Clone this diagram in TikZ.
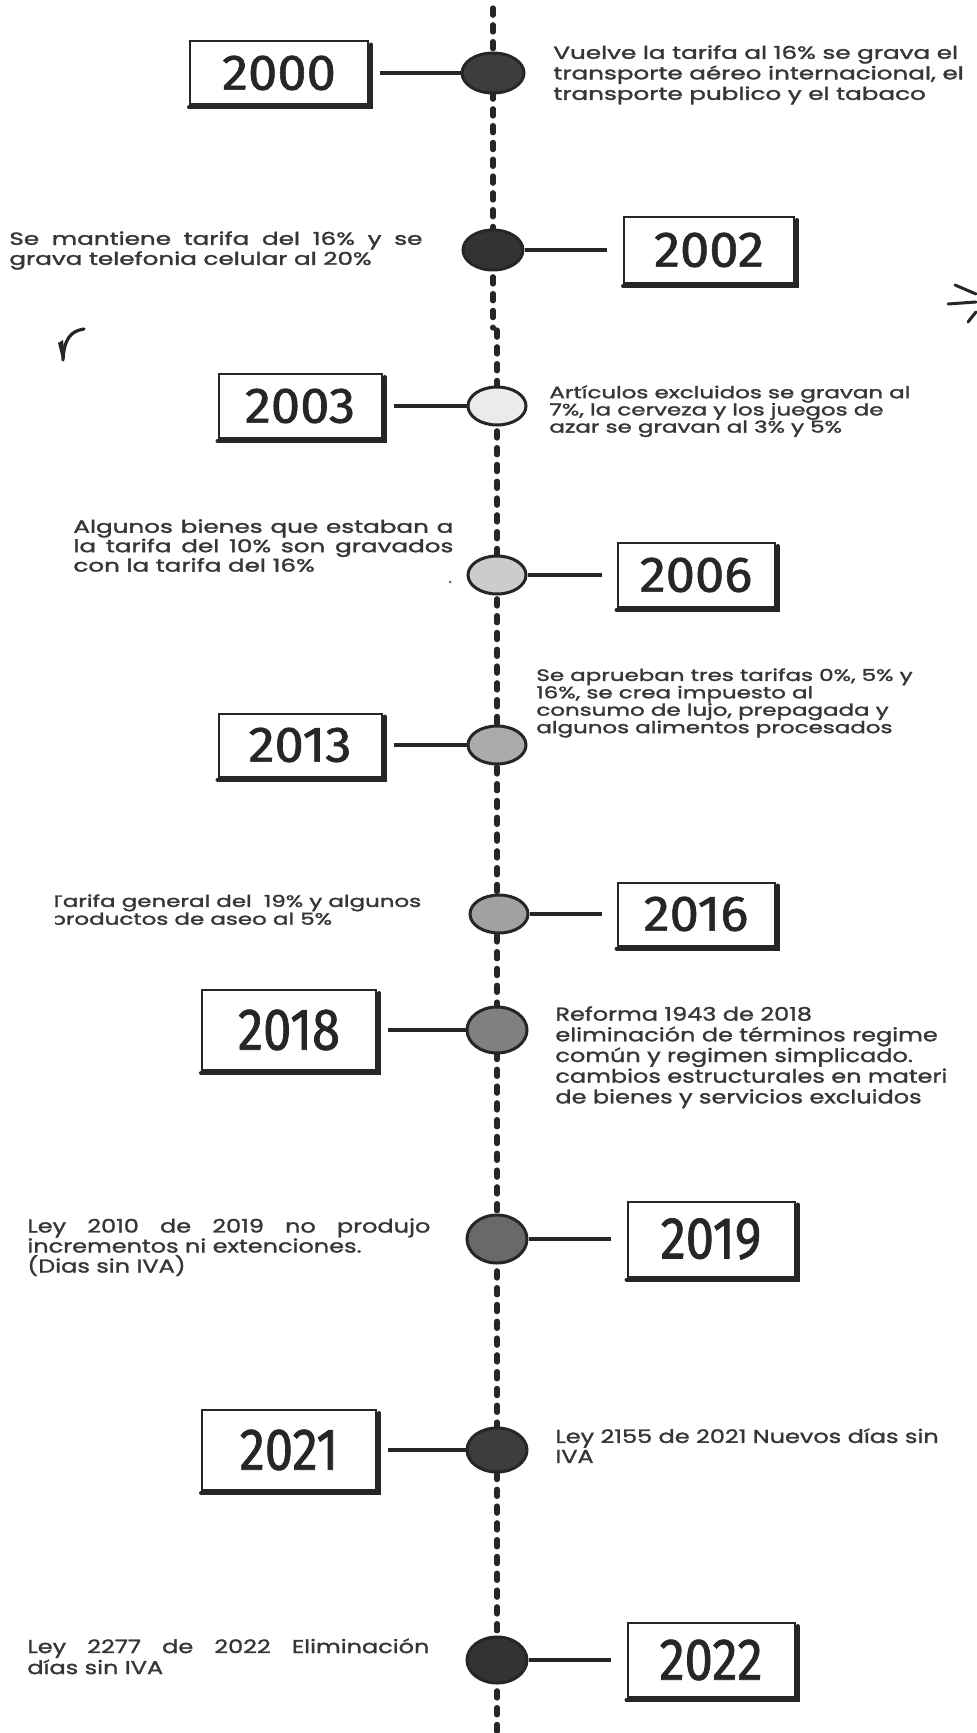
\documentclass[tikz,border=0pt]{standalone}
\usepackage{fontspec}
\usetikzlibrary{shapes.geometric}
\newfontfamily\descfont{Poppins}[FakeStretch=1.4,FakeBold=1.8]
\newfontfamily\descfontb{Poppins}[FakeStretch=1.29,FakeBold=1.4]
\newfontfamily\yearfontA{Fira Sans}[FakeStretch=1.05,FakeBold=1.2]
\newfontfamily\yearfontB{Fira Sans}[FakeStretch=0.86,FakeBold=1.2]
\definecolor{txt}{HTML}{363636}
\definecolor{ink}{HTML}{262626}
\newcommand\boxshadow[1]{\draw[line width=2pt,ink,line cap=round]
  ([xshift=1pt,yshift=-2pt]#1.north east) -- ([xshift=1pt,yshift=-1pt]#1.south east)
  -- ([xshift=0pt,yshift=-1pt]#1.south west);}
\newcommand\jline[2]{\makebox[#1][s]{#2}}
\tikzset{
  yearbox/.style={draw=ink,line width=1pt,fill=white,inner sep=0,text=ink},
  yearA/.style={yearbox,font=\yearfontA\fontsize{25}{25}\selectfont},
  yearB/.style={yearbox,font=\yearfontB\fontsize{29.5}{29.5}\selectfont},
  dot/.style={ellipse,draw=ink,line width=1.5pt,inner sep=0},
  conn/.style={line width=1.6pt,draw=ink},
  desc/.style={inner sep=0,anchor=north west,text=txt,align=left,
    font=\descfont\fontsize{8.8}{10.25}\selectfont},
  descb/.style={inner sep=0,anchor=north west,text=txt,align=left,
    font=\descfontb\fontsize{9.3}{10.35}\selectfont},
  spine/.style={line width=2.6pt,dash pattern=on 3.6pt off 4.8pt,line cap=round,draw=ink}
}
\begin{document}
\begin{tikzpicture}[x=0.5pt,y=-0.5pt]
\useasboundingbox[fill=white] (0,0) rectangle (976,1733);
% spine
\coordinate (s0) at (493,8);
\coordinate (s1) at (493,328);
\coordinate (s2) at (497,330);
\coordinate (s3) at (497,1733);
\draw[spine] (s0) -- (s1);
\draw[spine] (s2) -- (s3);
% dots
\node[dot,fill=black!76,minimum width=31pt,minimum height=20pt] (c1) at (493,73) {};
\node[dot,fill=black!80,minimum width=30pt,minimum height=20pt] (c2) at (493,250) {};
\node[dot,fill=black!8,minimum width=29pt,minimum height=19pt] (c3) at (497,406) {};
\node[dot,fill=black!20,minimum width=29pt,minimum height=19pt] (c4) at (497,575) {};
\node[dot,fill=black!33,minimum width=29pt,minimum height=19pt] (c5) at (497,745) {};
\node[dot,fill=black!37,minimum width=29pt,minimum height=19pt] (c6) at (499,914) {};
\node[dot,fill=black!50,minimum width=30pt,minimum height=23pt] (c7) at (497,1030) {};
\node[dot,fill=black!59,minimum width=30pt,minimum height=24pt] (c8) at (497,1239) {};
\node[dot,fill=black!76,minimum width=30pt,minimum height=22pt] (c9) at (497,1450) {};
\node[dot,fill=black!80,minimum width=30pt,minimum height=23pt] (c10) at (497,1660) {};
% year boxes
\node[yearA,minimum width=89pt,minimum height=31.5pt] (b1) at (279,73) {2000};
\node[yearA,minimum width=85pt,minimum height=33pt] (b2) at (709,250) {2002};
\node[yearA,minimum width=81.5pt,minimum height=32pt] (b3) at (300,406) {2003};
\node[yearA,minimum width=78.5pt,minimum height=32pt] (b4) at (696,575) {2006};
\node[yearA,minimum width=81.5pt,minimum height=31.5pt] (b5) at (300,745) {2013};
\node[yearA,minimum width=78.5pt,minimum height=31.5pt] (b6) at (696,914) {2016};
\node[yearB,minimum width=87pt,minimum height=40pt] (b7) at (289,1030) {2018};
\node[yearB,minimum width=83.5pt,minimum height=37.5pt] (b8) at (711,1239) {2019};
\node[yearB,minimum width=87pt,minimum height=40pt] (b9) at (289,1450) {2021};
\node[yearB,minimum width=83.5pt,minimum height=37pt] (b10) at (711,1660) {2022};
\boxshadow{b1}\boxshadow{b2}\boxshadow{b3}\boxshadow{b4}\boxshadow{b5}
\boxshadow{b6}\boxshadow{b7}\boxshadow{b8}\boxshadow{b9}\boxshadow{b10}
% connectors
\draw[conn,shorten >=5.5pt] (c1) -- (b1);
\draw[conn,shorten >=8pt] (c2) -- (b2);
\draw[conn,shorten >=5.5pt] (c3) -- (b3);
\draw[conn,shorten >=7.5pt] (c4) -- (b4);
\draw[conn,shorten >=5.5pt] (c5) -- (b5);
\draw[conn,shorten >=7.5pt] (c6) -- (b6);
\draw[conn,shorten >=5.5pt] (c7) -- (b7);
\draw[conn,shorten >=8pt] (c8) -- (b8);
\draw[conn,shorten >=5.5pt] (c9) -- (b9);
\draw[conn,shorten >=8pt] (c10) -- (b10);
% descriptions
\node[desc] (t1) at (553,45) {Vuelve la tarifa al 16\% se grava el\\transporte aéreo internacional, el\\transporte publico y el tabaco};
\node[desc,font=\descfont\fontsize{8.8}{10}\selectfont] (t2) at (9,231) {\jline{206.5pt}{Se mantiene tarifa del 16\% y se}\\grava telefonia celular al 20\%};
\node[desc,font=\descfont\fontsize{8.2}{8.6}\selectfont] (t3) at (549,385) {Artículos excluidos se gravan al\\7\%, la cerveza y los juegos de\\azar se gravan al 3\% y 5\%};
\node[desc,font=\descfont\fontsize{8.8}{9.7}\selectfont] (t4) at (73,519) {\jline{190pt}{Algunos bienes que estaban a}\\\jline{190pt}{la tarifa del 10\% son gravados}\\con la tarifa del 16\%};
\node[desc,font=\descfont\fontsize{8.2}{8.7}\selectfont] (t5) at (536,668) {Se aprueban tres tarifas 0\%, 5\% y\\16\%, se crea impuesto al\\consumo de lujo, prepagada y\\algunos alimentos procesados};
\begin{scope}
\clip (55,880) rectangle (480,935);
\node[desc,font=\descfont\fontsize{8.2}{8.9}\selectfont] (t6) at (50,894) {Tarifa general del \ 19\% y algunos\\productos de aseo al 5\%};
\end{scope}
\node[descb] (t7) at (555,1006) {Reforma 1943 de 2018\\eliminación de términos regime\\común y regimen simplicado.\\cambios estructurales en materi\\de bienes y servicios excluidos};
\node[descb,font=\descfontb\fontsize{9.3}{10}\selectfont] (t8) at (27,1218) {\jline{201.5pt}{Ley 2010 de 2019 no produjo}\\incrementos ni extenciones.\\(Dias sin IVA)};
\node[descb,font=\descfontb\fontsize{9.3}{10}\selectfont] (t9) at (555,1428) {Ley 2155 de 2021 Nuevos días sin\\IVA};
\node[descb,font=\descfontb\fontsize{9.3}{10.5}\selectfont] (t10) at (27,1638) {\jline{201pt}{Ley 2277 de 2022 Eliminación}\\días sin IVA};
% stray marks
\draw[line width=1.6pt,ink,line cap=round] (84,329) .. controls (70,331) and (64,340) .. (63,360);
\fill[ink] (58,343) -- (63,340) -- (65,358) -- (62,359) -- cycle;
\draw[line width=1.5pt,ink,line cap=round] (955,285) -- (976,294);
\draw[line width=1.5pt,ink,line cap=round] (948,304) -- (976,302);
\draw[line width=1.5pt,ink,line cap=round] (968,322) -- (976,312);
\fill[black!60] (450,582) circle (1.5);
\end{tikzpicture}
\end{document}
